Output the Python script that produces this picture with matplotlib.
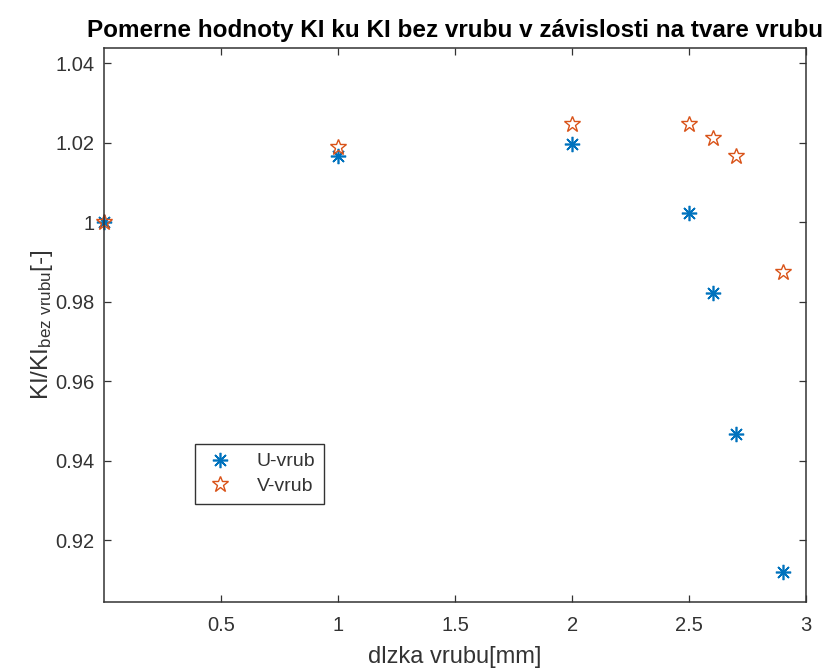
import matplotlib.pyplot as plt
import numpy as np

plt.rcParams['font.family'] = ['Liberation Sans', 'DejaVu Sans']
plt.rcParams['mathtext.default'] = 'regular'

# dlzka vrubu [mm]
dlzka = [0, 1, 2, 2.5, 2.6, 2.7, 2.9]
u_vrub = [1.0, 1.0167, 1.0198, 1.0023, 0.9822, 0.9467, 0.9120]
v_vrub = [1.0, 1.0190, 1.0248, 1.0248, 1.0213, 1.0167, 0.9876]

x_ticks = [0.5, 1, 1.5, 2, 2.5, 3]
y_ticks = [0.92, 0.94, 0.96, 0.98, 1.0, 1.02, 1.04]
y_tick_labels = ['0.92', '0.94', '0.96', '0.98', '1', '1.02', '1.04']

c_u = '#0072BD'
c_v = '#D95319'
grey = '#333333'


def main():
    fig = plt.figure(figsize=(8.26, 6.71), dpi=100)
    ax = fig.add_axes([0.126, 0.103, 0.850, 0.825])

    ax.plot(dlzka, u_vrub, linestyle='none', marker=(8, 2, 0), markersize=11,
            color=c_u, markeredgewidth=1.2, label='U-vrub', clip_on=False)
    ax.plot(dlzka, v_vrub, linestyle='none', marker='*', markersize=12,
            markerfacecolor='none', markeredgecolor=c_v, markeredgewidth=1.0,
            label='V-vrub', clip_on=False)

    ax.set_xlim(0, 3)
    ax.set_ylim(0.9045, 1.0438)
    ax.set_xticks(x_ticks)
    ax.set_xticklabels(['0.5', '1', '1.5', '2', '2.5', '3'])
    ax.set_yticks(y_ticks)
    ax.set_yticklabels(y_tick_labels)

    ax.tick_params(direction='in', top=True, right=True, length=5,
                   width=0.9, colors=grey, labelsize=14.5)
    ax.tick_params(axis='x', pad=10)
    ax.tick_params(axis='y', pad=7)
    for s in ax.spines.values():
        s.set_color(grey)
        s.set_linewidth(1.1)

    ax.set_xlabel('dlzka vrubu[mm]', fontsize=17, color=grey, labelpad=8)
    ax.set_ylabel('KI/KI$_{bez\\ vrubu}$[-]', fontsize=17.5, color=grey, labelpad=0)
    ax.set_title('Pomerne hodnoty KI ku KI bez vrubu v závislosti na tvare vrubu',
                 fontsize=17.5, fontweight='bold', color='black', pad=8)

    leg = ax.legend(loc='upper left', bbox_to_anchor=(0.13, 0.285),
                    fontsize=14, fancybox=False, framealpha=1,
                    edgecolor=grey, borderpad=0.45, handletextpad=1.1,
                    labelspacing=0.35, handlelength=1.6, borderaxespad=0)
    leg.get_frame().set_linewidth(1.0)
    for t in leg.get_texts():
        t.set_color(grey)

    fig.savefig('out.png', dpi=100)


if __name__ == '__main__':
    main()
